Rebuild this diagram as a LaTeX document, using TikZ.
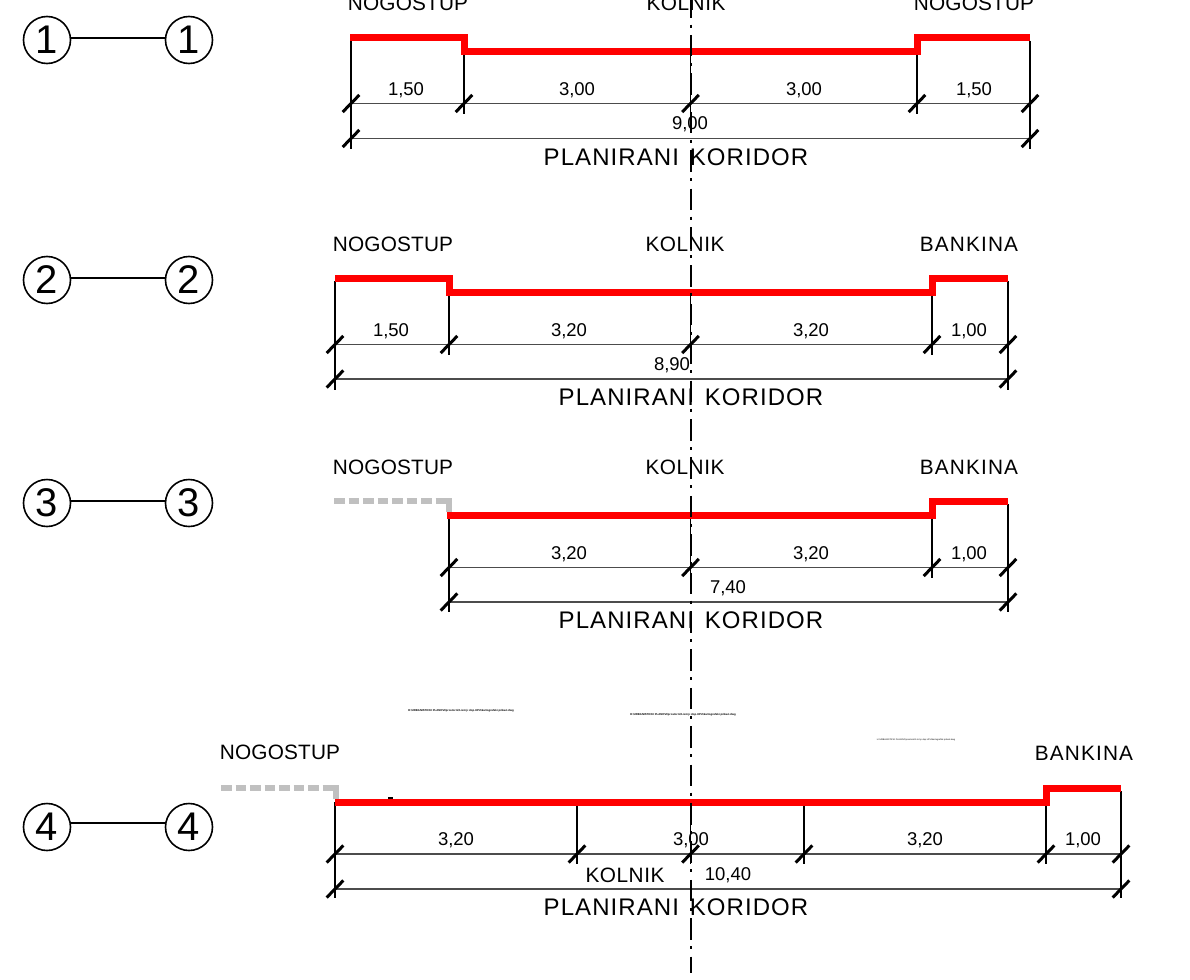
\documentclass[tikz,border=0pt]{standalone}
\usepackage{fontspec}
\setmainfont{Liberation Sans}
\newfontfamily\spaced[LetterSpace=4.5]{Liberation Sans}
\newfontfamily\headfont[LetterSpace=0.8]{Liberation Sans}
\newfontfamily\kolfont[LetterSpace=2.5]{Liberation Sans}
\newfontfamily\bankfont[LetterSpace=5.5]{Liberation Sans}
\definecolor{roadred}{RGB}{255,0,0}
\definecolor{oldgrey}{RGB}{192,192,192}
\tikzset{
  mark circle/.style={circle,draw=black,line width=1.6pt,minimum size=47pt,inner sep=0pt,font=\fontsize{40}{40}\selectfont},
  link/.style={line width=1.5pt,black},
  red walk/.style={line width=7pt,roadred,line join=miter},
  grey walk/.style={line width=6pt,oldgrey,dash pattern=on 10.5pt off 4pt},
  grey step/.style={line width=6pt,oldgrey},
  ext/.style={line width=1.5pt,black},
  dim/.style={line width=1.6pt,black!70},
  tick mark/.style={line width=3pt,black},
  head/.style={font=\headfont\fontsize{20.8}{21}\selectfont,inner sep=0pt},
  kol/.style={font=\kolfont\fontsize{20.8}{21}\selectfont,inner sep=0pt},
  bank/.style={font=\bankfont\fontsize{20.8}{21}\selectfont,inner sep=0pt},
  num/.style={font=\fontsize{18.5}{19}\selectfont,inner sep=0pt},
  corridor/.style={font=\spaced\fontsize{24}{24}\selectfont,inner sep=0pt},
  tiny/.style={font=\fontsize{2.8}{3}\selectfont\bfseries,inner sep=0pt},
  axis/.style={line width=2pt,black,dash pattern=on 21.5pt off 6.5pt on 3pt off 7.4pt}
}
\newcommand{\dimtick}[2]{\draw[tick mark] (#1-8.3,#2+8.5) -- (#1+8.3,#2-8.5);}
\newcommand{\corridortext}{PLANIRANI\hspace{3pt} KORIDOR}
\begin{document}
\begin{tikzpicture}[x=1pt,y=-1pt]
\useasboundingbox (0,0) rectangle (1190,979);
\clip (0,0) rectangle (1190,979);
\fill[white] (0,0) rectangle (1190,979);
% section marks
\node[mark circle] (a1) at (47,40) {1};
\node[mark circle] (b1) at (189,40) {1};
\draw[link] ([yshift=2pt]a1.east) -- ([yshift=2pt]b1.west);
\node[mark circle] (a2) at (47,280) {2};
\node[mark circle] (b2) at (189,280) {2};
\draw[link] ([yshift=2pt]a2.east) -- ([yshift=2pt]b2.west);
\node[mark circle] (a3) at (47,503) {3};
\node[mark circle] (b3) at (189,503) {3};
\draw[link] ([yshift=2pt]a3.east) -- ([yshift=2pt]b3.west);
\node[mark circle] (a4) at (47,827) {4};
\node[mark circle] (b4) at (189,827) {4};
\draw[link] ([yshift=4pt]a4.east) -- ([yshift=4pt]b4.west);
% --- section 1
\foreach \x/\t/\b in {351/41/149,464/52/114,690.5/52/114,917/52/114,1030/41/149}{\draw[ext] (\x,\t) -- (\x,\b);}
\draw[dim] (351,103.5) -- (1030,103.5);
\draw[dim] (351,138.5) -- (1030,138.5);
\foreach \x in {351,464,690.5,917,1030}{\dimtick{\x}{103.5}}
\foreach \x in {351,1030}{\dimtick{\x}{138.5}}
\draw[red walk] (350,37.5) -- (464,37.5) -- (464,51.5) -- (917,51.5) -- (917,37.5) -- (1030,37.5);
\node[head] at (408,3) {NOGOSTUP};
\node[kol] at (686,3) {KOLNIK};
\node[head] at (974,3) {NOGOSTUP};
\node[num] at (406,90.5) {1,50};
\node[num] at (577,90.5) {3,00};
\node[num] at (804,90.5) {3,00};
\node[num] at (974,90.5) {1,50};
\node[num] at (690,124.5) {9,00};
\node[corridor] at (676,157) {\corridortext};
% --- section 2
\foreach \x/\t/\b in {335/281/390,449/292/355,690.5/292/355,932/292/355,1008/281/390}{\draw[ext] (\x,\t) -- (\x,\b);}
\draw[dim] (335,344.5) -- (1008,344.5);
\draw[dim] (335,379) -- (1008,379);
\foreach \x in {335,449,690.5,932,1008}{\dimtick{\x}{344.5}}
\foreach \x in {335,1008}{\dimtick{\x}{379}}
\draw[red walk] (335,278) -- (449,278) -- (449,292) -- (932,292) -- (932,278) -- (1008,278);
\node[head] at (393,244) {NOGOSTUP};
\node[kol] at (685,244) {KOLNIK};
\node[bank] at (969,244) {BANKINA};
\node[num] at (391,331.5) {1,50};
\node[num] at (569,331.5) {3,20};
\node[num] at (811,331.5) {3,20};
\node[num] at (969,331.5) {1,00};
\node[num] at (672,365.5) {8,90};
\node[corridor] at (691,397) {\corridortext};
% --- section 3
\foreach \x/\t/\b in {449/515/612,690.5/515/578,932/515/578,1008/504/612}{\draw[ext] (\x,\t) -- (\x,\b);}
\draw[dim] (449,567.5) -- (1008,567.5);
\draw[dim] (449,602) -- (1008,602);
\foreach \x in {449,690.5,932,1008}{\dimtick{\x}{567.5}}
\foreach \x in {449,1008}{\dimtick{\x}{602}}
\draw[grey walk] (334,501) -- (449,501);
\draw[grey step] (449,498) -- (449,512);
\draw[red walk] (447,515) -- (932,515) -- (932,501) -- (1008,501);
\node[head] at (393,467) {NOGOSTUP};
\node[kol] at (685,467) {KOLNIK};
\node[bank] at (969,467) {BANKINA};
\node[num] at (569,554.5) {3,20};
\node[num] at (811,554.5) {3,20};
\node[num] at (969,554.5) {1,00};
\node[num] at (728,588.5) {7,40};
\node[corridor] at (691,620) {\corridortext};
% --- section 4
\foreach \x/\t/\b in {335/802/898,577/805/864,690.5/802/864,804/805/864,1046/802/864,1121/791/898}{\draw[ext] (\x,\t) -- (\x,\b);}
\draw[dim] (335,854) -- (1121,854);
\draw[dim] (335,889) -- (1121,889);
\foreach \x in {335,577,690.5,804,1046,1121}{\dimtick{\x}{854}}
\foreach \x in {335,1121}{\dimtick{\x}{889}}
\draw[grey walk] (221,788) -- (336,788);
\draw[grey step] (336,785) -- (336,799);
\draw[red walk] (335,802) -- (1046,802) -- (1046,788) -- (1121,788);
\fill[black] (387.5,796.5) rectangle (393,798.5);
\node[head] at (280,752) {NOGOSTUP};
\node[bank] at (1084,753) {BANKINA};
\node[num] at (456,840.5) {3,20};
\node[num] at (691,840.5) {3,00};
\node[num] at (925,840.5) {3,20};
\node[num] at (1083,840.5) {1,00};
\node[kol] at (625,875) {KOLNIK};
\node[num] at (728,875.5) {10,40};
\node[corridor] at (676,907) {\corridortext};
% tiny stray texts
\node[tiny] at (461,711) {H:\textbackslash URBANISTICKI PLANOVI\textbackslash prostorni\textbackslash 1.izmj.i dop.UPU\textbackslash kartografski prikazi.dwg};
\node[tiny] at (683,715) {H:\textbackslash URBANISTICKI PLANOVI\textbackslash prostorni\textbackslash 1.izmj.i dop.UPU\textbackslash kartografski prikazi.dwg};
\node[tiny,font=\fontsize{2.2}{2.4}\selectfont] at (916,740) {H:\textbackslash URBANISTICKI PLANOVI\textbackslash prostorni\textbackslash 1.izmj.i dop.UPU\textbackslash kartografski prikazi.dwg};
% centre line
\draw[axis] (690.5,-3.4) -- (690.5,973);
\end{tikzpicture}
\end{document}
